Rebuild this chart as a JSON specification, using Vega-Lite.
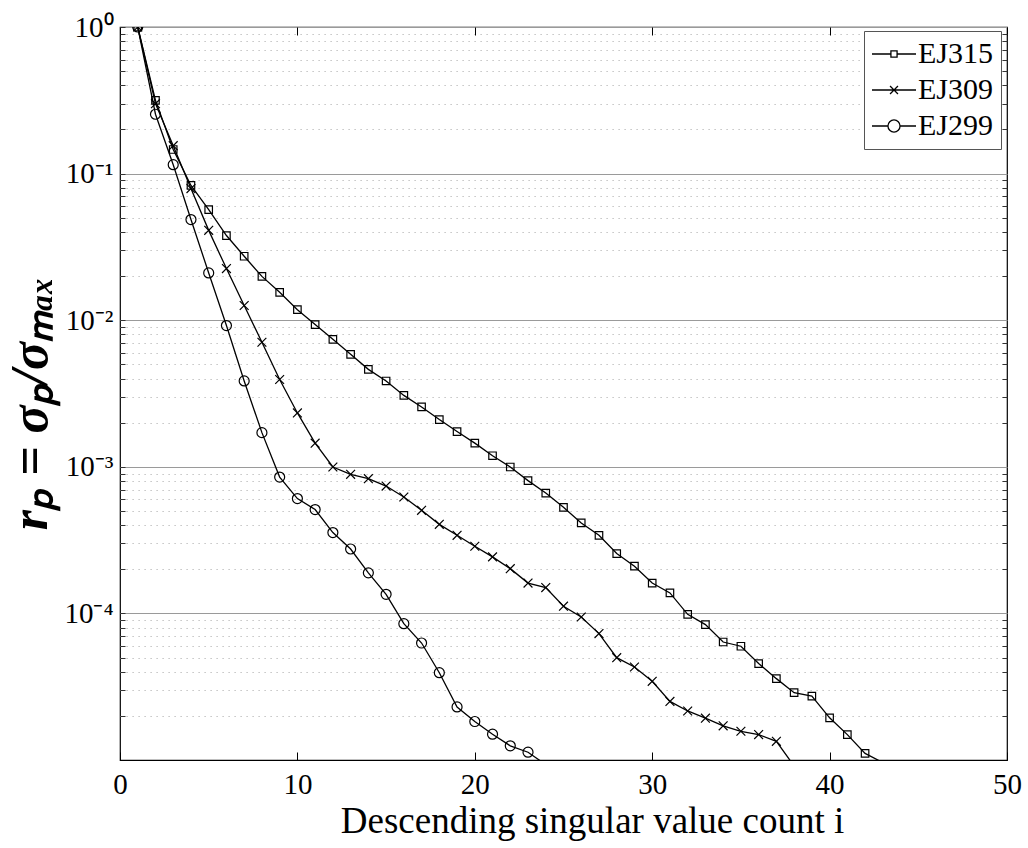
{
  "$schema": "https://vega.github.io/schema/vega-lite/v6.json",
  "width": 887,
  "height": 733,
  "autosize": {"type": "none"},
  "padding": {"left": 120, "top": 27, "right": 21, "bottom": 88},
  "background": "white",
  "config": {
    "font": "Liberation Serif",
    "view": {"stroke": "#000", "strokeWidth": 1.2},
    "axis": {"labelFont": "Liberation Serif", "labelFontSize": 29, "labelColor": "#000"}
  },
  "data": {"values": [
    {"i":1,"r":1,"s":"EJ315"},{"i":2,"r":0.316,"s":"EJ315"},{"i":3,"r":0.146,"s":"EJ315"},{"i":4,"r":0.083,"s":"EJ315"},{"i":5,"r":0.0568,"s":"EJ315"},{"i":6,"r":0.0378,"s":"EJ315"},{"i":7,"r":0.0273,"s":"EJ315"},{"i":8,"r":0.0199,"s":"EJ315"},{"i":9,"r":0.0155,"s":"EJ315"},{"i":10,"r":0.0118,"s":"EJ315"},{"i":11,"r":0.00933,"s":"EJ315"},{"i":12,"r":0.00741,"s":"EJ315"},{"i":13,"r":0.00585,"s":"EJ315"},{"i":14,"r":0.00462,"s":"EJ315"},{"i":15,"r":0.00385,"s":"EJ315"},{"i":16,"r":0.00307,"s":"EJ315"},{"i":17,"r":0.00256,"s":"EJ315"},{"i":18,"r":0.0021,"s":"EJ315"},{"i":19,"r":0.00174,"s":"EJ315"},{"i":20,"r":0.00145,"s":"EJ315"},{"i":21,"r":0.00119,"s":"EJ315"},{"i":22,"r":0.000997,"s":"EJ315"},{"i":23,"r":0.000805,"s":"EJ315"},{"i":24,"r":0.000662,"s":"EJ315"},{"i":25,"r":0.000529,"s":"EJ315"},{"i":26,"r":0.000414,"s":"EJ315"},{"i":27,"r":0.000341,"s":"EJ315"},{"i":28,"r":0.000256,"s":"EJ315"},{"i":29,"r":0.00021,"s":"EJ315"},{"i":30,"r":0.000161,"s":"EJ315"},{"i":31,"r":0.000138,"s":"EJ315"},{"i":32,"r":0.0000986,"s":"EJ315"},{"i":33,"r":0.0000839,"s":"EJ315"},{"i":34,"r":0.0000638,"s":"EJ315"},{"i":35,"r":0.0000597,"s":"EJ315"},{"i":36,"r":0.0000455,"s":"EJ315"},{"i":37,"r":0.0000359,"s":"EJ315"},{"i":38,"r":0.0000288,"s":"EJ315"},{"i":39,"r":0.0000273,"s":"EJ315"},{"i":40,"r":0.0000194,"s":"EJ315"},{"i":41,"r":0.0000149,"s":"EJ315"},{"i":42,"r":0.0000111,"s":"EJ315"},{"i":43,"r":0.0000096,"s":"EJ315"},
    {"i":1,"r":1,"s":"EJ309"},{"i":2,"r":0.3,"s":"EJ309"},{"i":3,"r":0.155,"s":"EJ309"},{"i":4,"r":0.079,"s":"EJ309"},{"i":5,"r":0.041,"s":"EJ309"},{"i":6,"r":0.0225,"s":"EJ309"},{"i":7,"r":0.0126,"s":"EJ309"},{"i":8,"r":0.00707,"s":"EJ309"},{"i":9,"r":0.00394,"s":"EJ309"},{"i":10,"r":0.00233,"s":"EJ309"},{"i":11,"r":0.00145,"s":"EJ309"},{"i":12,"r":0.000997,"s":"EJ309"},{"i":13,"r":0.000889,"s":"EJ309"},{"i":14,"r":0.00083,"s":"EJ309"},{"i":15,"r":0.000739,"s":"EJ309"},{"i":16,"r":0.000622,"s":"EJ309"},{"i":17,"r":0.000505,"s":"EJ309"},{"i":18,"r":0.000405,"s":"EJ309"},{"i":19,"r":0.000341,"s":"EJ309"},{"i":20,"r":0.000287,"s":"EJ309"},{"i":21,"r":0.000243,"s":"EJ309"},{"i":22,"r":0.000202,"s":"EJ309"},{"i":23,"r":0.000161,"s":"EJ309"},{"i":24,"r":0.00015,"s":"EJ309"},{"i":25,"r":0.000112,"s":"EJ309"},{"i":26,"r":0.0000945,"s":"EJ309"},{"i":27,"r":0.0000728,"s":"EJ309"},{"i":28,"r":0.0000499,"s":"EJ309"},{"i":29,"r":0.0000431,"s":"EJ309"},{"i":30,"r":0.0000344,"s":"EJ309"},{"i":31,"r":0.0000251,"s":"EJ309"},{"i":32,"r":0.0000216,"s":"EJ309"},{"i":33,"r":0.0000193,"s":"EJ309"},{"i":34,"r":0.0000171,"s":"EJ309"},{"i":35,"r":0.0000157,"s":"EJ309"},{"i":36,"r":0.0000149,"s":"EJ309"},{"i":37,"r":0.0000134,"s":"EJ309"},{"i":38,"r":0.0000091,"s":"EJ309"},
    {"i":1,"r":1,"s":"EJ299"},{"i":2,"r":0.254,"s":"EJ299"},{"i":3,"r":0.115,"s":"EJ299"},{"i":4,"r":0.0486,"s":"EJ299"},{"i":5,"r":0.021,"s":"EJ299"},{"i":6,"r":0.00919,"s":"EJ299"},{"i":7,"r":0.00385,"s":"EJ299"},{"i":8,"r":0.00171,"s":"EJ299"},{"i":9,"r":0.000851,"s":"EJ299"},{"i":10,"r":0.000607,"s":"EJ299"},{"i":11,"r":0.000511,"s":"EJ299"},{"i":12,"r":0.000356,"s":"EJ299"},{"i":13,"r":0.000275,"s":"EJ299"},{"i":14,"r":0.000189,"s":"EJ299"},{"i":15,"r":0.000135,"s":"EJ299"},{"i":16,"r":0.0000851,"s":"EJ299"},{"i":17,"r":0.0000628,"s":"EJ299"},{"i":18,"r":0.0000394,"s":"EJ299"},{"i":19,"r":0.000023,"s":"EJ299"},{"i":20,"r":0.0000183,"s":"EJ299"},{"i":21,"r":0.000015,"s":"EJ299"},{"i":22,"r":0.0000125,"s":"EJ299"},{"i":23,"r":0.0000113,"s":"EJ299"},{"i":24,"r":0.0000093,"s":"EJ299"}
  ]},
  "resolve": {"axis": {"x": "independent", "y": "independent"}, "scale": {"shape": "independent", "size": "independent"}},
  "layer": [
    {
      "mark": {"type": "line", "stroke": "black", "strokeWidth": 1.3, "clip": true},
      "encoding": {
        "x": {"field": "i", "type": "quantitative", "scale": {"domain": [0, 50], "nice": false, "zero": false},
          "axis": {"orient": "bottom", "values": [0,10,20,30,40,50], "grid": false, "domain": false,
            "tickSize": -8, "tickColor": "#000", "tickWidth": 1, "labelPadding": 18, "labelFontSize": 29, "labelColor": "#000", "labelFont": "Liberation Serif", "labelFlush": false,
            "title": "Descending singular value count i", "titleFont": "Liberation Serif", "titleFontSize": 37, "titleFontWeight": "normal", "titleColor": "#000",
            "titleX": 472, "titleY": 72, "titleBaseline": "alphabetic", "titleAlign": "center"}},
        "y": {"field": "r", "type": "quantitative", "scale": {"type": "log", "domain": [0.00001, 1], "nice": false},
          "axis": {"orient": "left", "domain": false,
            "values": [1,0.9,0.8,0.7,0.6,0.5,0.4,0.3,0.2,0.1,0.09,0.08,0.07,0.06,0.05,0.04,0.03,0.02,0.01,0.009,0.008,0.007,0.006,0.005,0.004,0.003,0.002,0.001,0.0009,0.0008,0.0007,0.0006,0.0005,0.0004,0.0003,0.0002,0.0001,0.00009,0.00008,0.00007,0.00006,0.00005,0.00004,0.00003,0.00002],
            "labelExpr": "datum.value == 1 ? '10⁰' : datum.value == 0.1 ? '10⁻¹' : datum.value == 0.01 ? '10⁻²' : datum.value == 0.001 ? '10⁻³' : datum.value == 0.0001 ? '10⁻⁴' : ''",
            "labelFontSize": 29, "labelColor": "#000", "labelFont": "Liberation Serif", "labelPadding": 12, "labelFlush": false, "labelOverlap": false,
            "tickSize": -5, "tickColor": "#333", "tickWidth": 1,
            "grid": true,
            "gridColor": {"condition": {"test": "abs(log(datum.value)/LN10 - round(log(datum.value)/LN10)) < 0.000001", "value": "#9a9a9a"}, "value": "#b4b4b4"},
            "gridDash": {"condition": {"test": "abs(log(datum.value)/LN10 - round(log(datum.value)/LN10)) < 0.000001", "value": []}, "value": [1.2, 4.8]},
            "gridWidth": 1,
            "title": "rₚ = σₚ/σₘₐₓ", "titleFont": "Liberation Serif", "titleFontSize": 52, "titleFontStyle": "italic", "titleFontWeight": "bold", "titleColor": "#000",
            "titleAngle": -90, "titleX": -90, "titleY": 376, "titleAlign": "center", "titleBaseline": "middle"}},
        "detail": {"field": "s"}
      }
    },
    {
      "transform": [{"filter": "datum.r >= 0.00001"}],
      "mark": {"type": "point", "filled": false, "stroke": "black", "strokeWidth": 1.2, "opacity": 1, "clip": true},
      "encoding": {
        "x": {"field": "i", "type": "quantitative",
          "axis": {"orient": "top", "values": [0,10,20,30,40,50], "grid": false, "domain": false, "labels": false, "tickSize": -8, "tickColor": "#000", "title": null}},
        "y": {"field": "r", "type": "quantitative",
          "axis": {"orient": "right", "domain": false, "labels": false, "grid": false, "tickSize": -5, "tickColor": "#333", "title": null,
            "values": [0.9,0.8,0.7,0.6,0.5,0.4,0.3,0.2,0.09,0.08,0.07,0.06,0.05,0.04,0.03,0.02,0.009,0.008,0.007,0.006,0.005,0.004,0.003,0.002,0.0009,0.0008,0.0007,0.0006,0.0005,0.0004,0.0003,0.0002,0.00009,0.00008,0.00007,0.00006,0.00005,0.00004,0.00003,0.00002]}},
        "shape": {"field": "s", "type": "nominal", "scale": {"domain": ["EJ315","EJ309","EJ299"], "range": ["square", "M-1,-1L1,1M-1,1L1,-1", "circle"]}, "legend": null},
        "size": {"field": "s", "type": "nominal", "scale": {"domain": ["EJ315","EJ309","EJ299"], "range": [56, 100, 144]}, "legend": null}
      }
    },
    {
      "mark": {"type": "point", "filled": false, "stroke": "black", "strokeWidth": 1.3, "opacity": 0, "size": 484},
      "encoding": {
        "x": {"field": "i", "type": "quantitative", "axis": null},
        "y": {"field": "r", "type": "quantitative", "axis": null},
        "shape": {"field": "s", "type": "nominal",
          "scale": {"domain": ["EJ315","EJ309","EJ299"], "range": [
            "M-2,0H-0.28M0.28,0H2M-0.28,-0.28H0.28V0.28H-0.28Z",
            "M-2,0H2M-0.36,-0.36L0.36,0.36M-0.36,0.36L0.36,-0.36",
            "M-2,0H-0.55M0.55,0H2M-0.55,0A0.55,0.55 0 1,0 0.55,0A0.55,0.55 0 1,0 -0.55,0Z"]},
          "legend": {"title": null, "orient": "none", "legendX": 744, "legendY": 4,
            "padding": 8, "rowPadding": 6, "symbolOffset": 7, "labelOffset": 9,
            "symbolSize": 484, "symbolOpacity": 1, "symbolStrokeColor": "#000", "symbolStrokeWidth": 1.3, "symbolFillColor": "transparent",
            "labelFont": "Liberation Serif", "labelFontSize": 30, "labelColor": "#000", "labelBaseline": "middle",
            "strokeColor": "#555", "fillColor": "white"}}
      }
    }
  ]
}
